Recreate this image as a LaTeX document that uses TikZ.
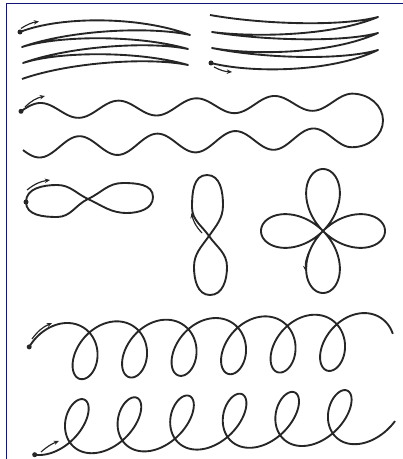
\documentclass[tikz,border=0pt]{standalone}
\usepackage{tikz}
\usetikzlibrary{arrows.meta}
\definecolor{framenavy}{RGB}{20,20,120}

\begin{document}
\begin{tikzpicture}[x=0.03cm, y=0.03cm,
    curve/.style={line width=1.6pt, black!85, line join=round},
    dirarrow/.style={line width=1pt, black!85, -{Stealth[length=4.5pt,width=3.8pt]}},
    startdot/.style={black!85}]
    \useasboundingbox (0,0) rectangle (403,-459);
    % 边框
    \draw[framenavy, line width=0.8pt] (6,-459) -- (6,-3) -- (403,-3);

    % 左上：来回折线
    \draw[curve] (20,-32) .. controls (60,-16) and (140,-16) .. (190,-35)
        .. controls (150,-26) and (70,-30) .. (22,-47)
        .. controls (60,-35) and (140,-35) .. (188,-49)
        .. controls (150,-41) and (70,-46) .. (23,-63)
        .. controls (60,-51) and (140,-51) .. (188,-65)
        .. controls (150,-57) and (70,-62) .. (22,-79);
    \fill[startdot] (20,-32) circle[radius=2.5];
    \draw[dirarrow] (21,-28.5) to[bend left=12] (39,-21.5);

    % 右上：来回折线
    \draw[curve] (211,-63) .. controls (250,-73) and (330,-73) .. (378,-50)
        .. controls (340,-61) and (260,-58) .. (212,-48)
        .. controls (250,-55) and (330,-55) .. (378,-33)
        .. controls (340,-43) and (260,-40) .. (212,-32)
        .. controls (250,-37) and (330,-37) .. (378,-17)
        .. controls (340,-27) and (260,-24) .. (210,-15);
    \fill[startdot] (211,-63) circle[radius=2.5];
    \draw[dirarrow] (214,-67) to[bend right=12] (232,-72);

    % 波浪线与右端回环
    \draw[curve] plot[domain=21:352, samples=160, variable=\t]
            (\t, {-(111-0.03*(\t-40)-8*cos(4.6154*(\t-40)))})
        arc[start angle=90, end angle=-90, x radius=31, y radius=26.8]
        -- plot[domain=352:23, samples=160, variable=\t]
            (\t, {-(138.5+0.033*(313-\t)-10*cos(4.6154*(\t-313)))});
    \fill[startdot] (21,-111.3) circle[radius=2.5];
    \draw[dirarrow] (25,-107) to[bend left=15] (45,-96);

    % 横向八字
    \draw[curve] (88,-199) to[out=25,in=180] (123,-183) to[out=0,in=90] (153,-197)
        to[out=-90,in=0] (127,-213) to[out=180,in=-25] (88,-199)
        to[out=155,in=0] (57,-185) to[out=180,in=90] (26,-202)
        to[out=-90,in=180] (57,-217) to[out=0,in=-155] (88,-199);
    \fill[startdot] (26,-202) circle[radius=2.5];
    \draw[dirarrow] (27,-190) to[bend left=15] (50,-180);

    % 竖向八字
    \draw[curve] (209,-236) to[out=55,in=-90] (223,-205) to[out=90,in=0] (207,-175)
        to[out=180,in=90] (192,-207) to[out=-90,in=125] (209,-236)
        to[out=-55,in=90] (227,-267) to[out=-90,in=0] (210,-295)
        to[out=180,in=-90] (194,-267) to[out=90,in=-125] (209,-236);
    \draw[dirarrow] (202,-233) to[bend left=15] (191.5,-213);

    % 四叶形
    \draw[curve] plot[domain=0:360, samples=241, variable=\t]
        ({323+62*cos(2*\t)*cos(\t)}, {-(231-62*cos(2*\t)*sin(\t))}) -- cycle;
    \draw[dirarrow] (310,-250) to[bend right=15] (305.5,-271);

    % 上方螺旋
    \draw[curve] plot[domain=-80:2235, samples=700, variable=\t]
        ({62+0.1375*\t+23*sin(\t)+5*cos(\t)}, {-(351.5-0.0046*\t-28.5*cos(\t))});
    \fill[startdot] (29.2,-346.9) circle[radius=2.5];
    \draw[dirarrow] (32,-339) to[bend left=15] (52,-323);

    % 下方螺旋
    \draw[curve] plot[domain=-369:1880, samples=700, variable=\t]
        ({100.15+0.14608*\t+22*sin(\t)-8.15*cos(\t)}, {-(427.5-0.005*(\t+360)+27.5*cos(\t))});
    \fill[startdot] (34.7,-454.7) circle[radius=2.5];
    \draw[dirarrow] (41,-452) to[bend left=10] (59,-441);
\end{tikzpicture}
\end{document}
